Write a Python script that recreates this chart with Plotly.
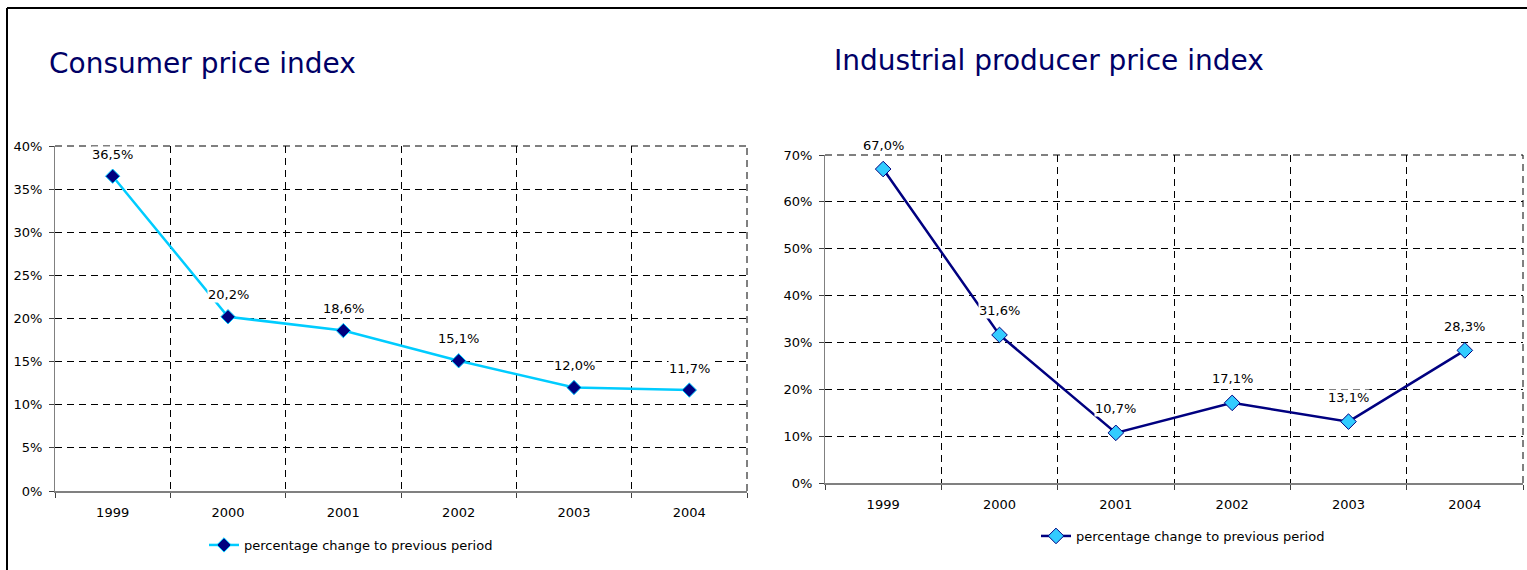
import plotly.graph_objects as go

years = ["1999", "2000", "2001", "2002", "2003", "2004"]
cpi = [0.365, 0.202, 0.186, 0.151, 0.120, 0.117]
ppi = [0.670, 0.316, 0.107, 0.171, 0.131, 0.283]
title_cpi = "Consumer price index"
title_ppi = "Industrial producer price index"
series_name = "percentage change to previous period"

W, H = 1527, 570
FONT = "DejaVu Sans"
NAVY = "#000080"
CYAN = "#00CCFF"
CYAN2 = "#33CCFF"

def px(x):
    return x / W

def py(y):
    return 1 - y / H

fig = go.Figure()

fig.add_trace(go.Scatter(
    x=years, y=cpi, mode="lines+markers", name=series_name,
    line=dict(color=CYAN, width=2.5),
    marker=dict(symbol="diamond", size=11, color=NAVY, line=dict(color=CYAN, width=1)),
    xaxis="x", yaxis="y", legend="legend",
))
fig.add_trace(go.Scatter(
    x=years, y=ppi, mode="lines+markers", name=series_name,
    line=dict(color=NAVY, width=2.5),
    marker=dict(symbol="diamond", size=12, color=CYAN2, line=dict(color=NAVY, width=1)),
    xaxis="x2", yaxis="y2", legend="legend2",
))

def fmt(v):
    return f"{v*100:.1f}%".replace(".", ",")

LABEL_FONT = dict(family=FONT, size=13, color="black")
annotations = []
for i, yv in enumerate(cpi):
    annotations.append(dict(x=i, y=yv, xref="x", yref="y", text=fmt(yv), showarrow=False,
                            yshift=22, bgcolor="white", borderpad=0, font=LABEL_FONT))
for i, yv in enumerate(ppi):
    annotations.append(dict(x=i, y=yv, xref="x2", yref="y2", text=fmt(yv), showarrow=False,
                            yshift=24, bgcolor="white", borderpad=0, font=LABEL_FONT))
annotations.append(dict(x=px(47), y=py(63), xref="paper", yref="paper", xanchor="left", yanchor="middle",
                        text=title_cpi, showarrow=False, font=dict(family=FONT, size=28, color="#000066")))
annotations.append(dict(x=px(832), y=py(60), xref="paper", yref="paper", xanchor="left", yanchor="middle",
                        text=title_ppi, showarrow=False, font=dict(family=FONT, size=28, color="#000066")))

DASH = "7px,5px"
TICKFONT = dict(family=FONT, size=13, color="black")
xcommon = dict(type="category", tickson="boundaries", range=[-0.5, 5.5],
               showgrid=True, gridcolor="black", gridwidth=1, griddash=DASH,
               showline=True, linecolor="#808080", linewidth=2,
               ticks="outside", ticklen=5, tickcolor="#404040", ticklabelstandoff=8,
               tickfont=TICKFONT, fixedrange=True)
ycommon = dict(showgrid=True, gridcolor="black", gridwidth=1, griddash=DASH,
               showline=True, linecolor="#808080", linewidth=1, zeroline=False,
               ticks="outside", ticklen=5, tickcolor="#404040", tickformat=".0%",
               ticklabelstandoff=4, tickfont=TICKFONT, fixedrange=True)

gridedge = dict(color="black", width=1, dash=DASH)

fig.update_layout(
    width=W, height=H, margin=dict(l=0, r=0, t=0, b=0, autoexpand=False),
    paper_bgcolor="white", plot_bgcolor="white",
    xaxis=dict(domain=[px(55), px(747)], anchor="y", **xcommon),
    yaxis=dict(domain=[py(491), py(146)], anchor="x", range=[0, 0.40], dtick=0.05, **ycommon),
    xaxis2=dict(domain=[px(825), px(1523)], anchor="y2", **xcommon),
    yaxis2=dict(domain=[py(483), py(155)], anchor="x2", range=[0, 0.70], dtick=0.10, **ycommon),
    legend=dict(x=px(204), y=py(545), xanchor="left", yanchor="middle", orientation="h",
                font=dict(family=FONT, size=13, color="black"), bgcolor="rgba(0,0,0,0)"),
    legend2=dict(x=px(1036), y=py(536), xanchor="left", yanchor="middle", orientation="h",
                 font=dict(family=FONT, size=13, color="black"), bgcolor="rgba(0,0,0,0)"),
    showlegend=True,
    annotations=annotations,
    shapes=[
        dict(type="line", xref="paper", yref="paper", x0=px(7), x1=px(7), y0=py(8), y1=0,
             line=dict(color="black", width=2)),
        dict(type="line", xref="paper", yref="paper", x0=px(7), x1=1, y0=py(8), y1=py(8),
             line=dict(color="black", width=2)),
        dict(type="line", xref="x domain", yref="y domain", x0=0, x1=1, y0=1, y1=1, line=gridedge, layer="below"),
        dict(type="line", xref="x domain", yref="y domain", x0=1, x1=1, y0=0, y1=1, line=gridedge, layer="below"),
        dict(type="line", xref="x2 domain", yref="y2 domain", x0=0, x1=1, y0=1, y1=1, line=gridedge, layer="below"),
        dict(type="line", xref="x2 domain", yref="y2 domain", x0=1, x1=1, y0=0, y1=1, line=gridedge, layer="below"),
    ],
)

fig.write_html("out.html")
